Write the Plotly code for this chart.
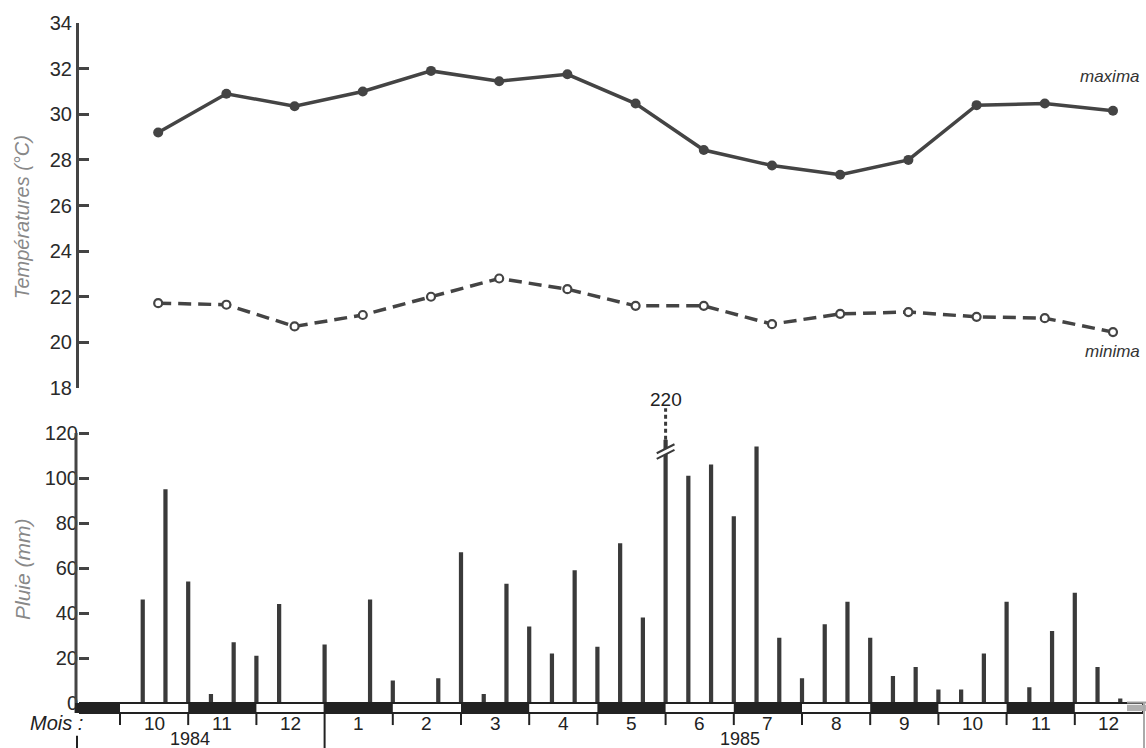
import plotly.graph_objects as go

# ---------------- data ----------------
months = ["10", "11", "12", "1", "2", "3", "4", "5", "6", "7", "8", "9", "10", "11", "12"]
years = ["1984", "1985"]
tmax = [29.2, 30.9, 30.35, 31.0, 31.9, 31.45, 31.75, 30.47, 28.43, 27.75, 27.35, 28.0, 30.4, 30.47, 30.15]
tmin = [21.72, 21.65, 20.7, 21.2, 22.0, 22.8, 22.33, 21.6, 21.6, 20.8, 21.25, 21.33, 21.12, 21.06, 20.45]
# decadal rainfall (mm), Oct 1984 decade 1 ... Dec 1985 decade 2
rain = [46, 95, 54, 4, 27, 21, 44, 0, 26, 0, 46, 10, 0, 11, 67, 4, 53, 34,
        22, 59, 25, 71, 38, 220, 101, 106, 83, 114, 29, 11, 35, 45, 29, 12, 16, 6,
        6, 22, 45, 7, 32, 49, 16, 2]
temp_ticks = list(range(18, 35, 2))
rain_ticks = list(range(0, 121, 20))

# ---------------- layout constants ----------------
W, H = 1146, 748
LM, RM = 79, 3
PW = W - LM - RM
PX_PER_MONTH = 68.2
XMIN = -(120 - LM) / PX_PER_MONTH
XMAX = len(months)
RAIN_CAP = 117          # drawn height of the broken bar
DARK = "#3a3a3a"
FONT = "Liberation Sans"


def paper_x(px):
    return (px - LM) / PW


month_x = [i + 0.5 for i in range(len(months))]
temp_x = [i + 0.56 for i in range(len(months))]   # readings plotted around mid-month
dec_x = [(i + 1) / 3 for i in range(len(rain))]
rain_drawn = [min(v, RAIN_CAP) for v in rain]

fig = go.Figure()

fig.add_trace(go.Scatter(
    x=temp_x, y=tmax, mode="lines+markers", xaxis="x", yaxis="y",
    line=dict(color="#444", width=3.5),
    marker=dict(color="#444", size=10), hoverinfo="skip"))
fig.add_trace(go.Scatter(
    x=temp_x, y=tmin, mode="lines+markers", xaxis="x", yaxis="y",
    line=dict(color="#444", width=3.5, dash="13px,7px"),
    marker=dict(color="white", size=8, line=dict(color="#444", width=2.2)),
    hoverinfo="skip"))
fig.add_trace(go.Bar(
    x=dec_x, y=rain_drawn, xaxis="x2", yaxis="y2", width=0.062,
    marker=dict(color=DARK, line=dict(width=0)), hoverinfo="skip"))

shapes = []
ax_px = paper_x(76)
# y2 axis line
shapes.append(dict(type="line", xref="paper", yref="y2", x0=ax_px, x1=ax_px, y0=-4.4, y1=120,
                   line=dict(color="#444", width=3)))
# month strip
shapes.append(dict(type="rect", xref="x2", yref="y2", x0=XMIN, x1=XMAX, y0=-4.4, y1=0,
                   fillcolor="white", line=dict(color="#222", width=2)))
shapes.append(dict(type="rect", xref="paper", yref="y2", x0=paper_x(75), x1=paper_x(120), y0=-4.4, y1=0,
                   fillcolor="#222", line=dict(width=0)))
for i in range(len(months)):
    if i % 2 == 1:
        shapes.append(dict(type="rect", xref="x2", yref="y2", x0=i, x1=i + 1, y0=-4.4, y1=0,
                           fillcolor="#222", line=dict(width=0)))
# month boundary ticks and year separator
for i in range(len(months)):
    if i == 3:
        shapes.append(dict(type="line", xref="x2", yref="y2", x0=i, x1=i, y0=0, y1=-20,
                           line=dict(color="#222", width=2)))
    else:
        shapes.append(dict(type="line", xref="x2", yref="y2", x0=i, x1=i, y0=-4.4, y1=-9.8,
                           line=dict(color="#222", width=2)))
shapes.append(dict(type="line", xref="paper", yref="y2", x0=paper_x(77), x1=paper_x(77), y0=-14.5, y1=-20,
                   line=dict(color="#222", width=2)))
# faded frame at the right edge
shapes.append(dict(type="rect", xref="paper", yref="y2", x0=paper_x(1127), x1=paper_x(1146),
                   y0=-3.6, y1=-0.8, fillcolor="#b0b0b0", line=dict(width=0)))
shapes.append(dict(type="line", xref="paper", yref="y2", x0=paper_x(1127), x1=paper_x(1146),
                   y0=0.2, y1=0.2, line=dict(color="#999", width=2)))
shapes.append(dict(type="line", xref="paper", yref="y2", x0=paper_x(1144), x1=paper_x(1144),
                   y0=0.2, y1=-20, line=dict(color="#aaa", width=2)))

# broken bar (value beyond axis)
imax = max(range(len(rain)), key=lambda k: rain[k])
bx = dec_x[imax]
d = 0.13
shapes.append(dict(type="path", xref="x2", yref="y2",
                   path=f"M {bx-d},108.5 L {bx+d},112.5 L {bx+d},115 L {bx-d},111 Z",
                   fillcolor="white", line=dict(width=0)))
shapes.append(dict(type="line", xref="x2", yref="y2", x0=bx - d, x1=bx + d, y0=108.5, y1=112.5,
                   line=dict(color=DARK, width=2)))
shapes.append(dict(type="line", xref="x2", yref="y2", x0=bx - d, x1=bx + d, y0=111, y1=115,
                   line=dict(color=DARK, width=2)))
shapes.append(dict(type="line", xref="x2", yref="y2", x0=bx, x1=bx, y0=RAIN_CAP, y1=131,
                   line=dict(color=DARK, width=3, dash="4px,3px")))

lab = dict(family=FONT, size=19, color="#222")
annotations = []
annotations.append(dict(x=bx, y=135, xref="x2", yref="y2", text=str(rain[imax]), showarrow=False,
                        font=lab))
for i, m in enumerate(months):
    annotations.append(dict(x=month_x[i], y=-8.9, xref="x2", yref="y2", text=m, showarrow=False,
                            font=lab))
ylab = dict(family=FONT, size=18, color="#222")
annotations.append(dict(x=1.03, y=-15.8, xref="x2", yref="y2", text=years[0], showarrow=False,
                        font=ylab))
annotations.append(dict(x=9.09, y=-15.8, xref="x2", yref="y2", text=years[1], showarrow=False,
                        font=ylab))
annotations.append(dict(x=paper_x(85), y=-8.9, xref="paper", yref="y2", text="<i>Mois :</i>",
                        xanchor="right", yanchor="middle", showarrow=False,
                        font=dict(family=FONT, size=20, color="#222")))
annotations.append(dict(x=14.98, y=31.65, xref="x", yref="y", text="<i>maxima</i>", showarrow=False,
                        xanchor="right", font=dict(family=FONT, size=17, color="#333")))
annotations.append(dict(x=14.98, y=19.6, xref="x", yref="y", text="<i>minima</i>", showarrow=False,
                        xanchor="right", font=dict(family=FONT, size=17, color="#333")))
annotations.append(dict(x=paper_x(22), y=(H - 217) / H, xref="paper", yref="paper",
                        xanchor="center", yanchor="middle",
                        text="<i>Températures (°C)</i>", textangle=-90, showarrow=False,
                        font=dict(family=FONT, size=20, color="#888")))
annotations.append(dict(x=paper_x(22), y=(H - 569) / H, xref="paper", yref="paper",
                        xanchor="center", yanchor="middle",
                        text="<i>Pluie (mm)</i>", textangle=-90, showarrow=False,
                        font=dict(family=FONT, size=21, color="#888")))

tickfont = dict(family=FONT, size=20, color="#2a2a2a")
fig.update_layout(
    width=W, height=H, margin=dict(l=LM, r=RM, t=0, b=0, pad=0, autoexpand=False),
    plot_bgcolor="white", paper_bgcolor="white", showlegend=False,
    xaxis=dict(domain=[0, 1], range=[XMIN, XMAX], visible=False, anchor="y", automargin=False),
    xaxis2=dict(domain=[0, 1], range=[XMIN, XMAX], visible=False, anchor="y2", automargin=False),
    yaxis=dict(domain=[360 / H, 725 / H], range=[18, 34], tickvals=temp_ticks,
               ticks="inside", ticklen=10, tickwidth=2.5, tickcolor="#444",
               showline=True, linecolor="#444", linewidth=3, showgrid=False,
               zeroline=False, tickfont=tickfont, anchor="x", automargin=False),
    yaxis2=dict(domain=[0, 360 / H], range=[-20, 140], tickvals=rain_ticks,
                ticks="inside", ticklen=10, tickwidth=2.5, tickcolor="#444",
                showline=False, showgrid=False, zeroline=False, tickfont=tickfont,
                anchor="x2", automargin=False),
    shapes=shapes, annotations=annotations,
)

fig.write_html("out.html", config={"displayModeBar": False},
               post_script="document.body.style.margin='0';document.body.style.overflow='hidden';")
